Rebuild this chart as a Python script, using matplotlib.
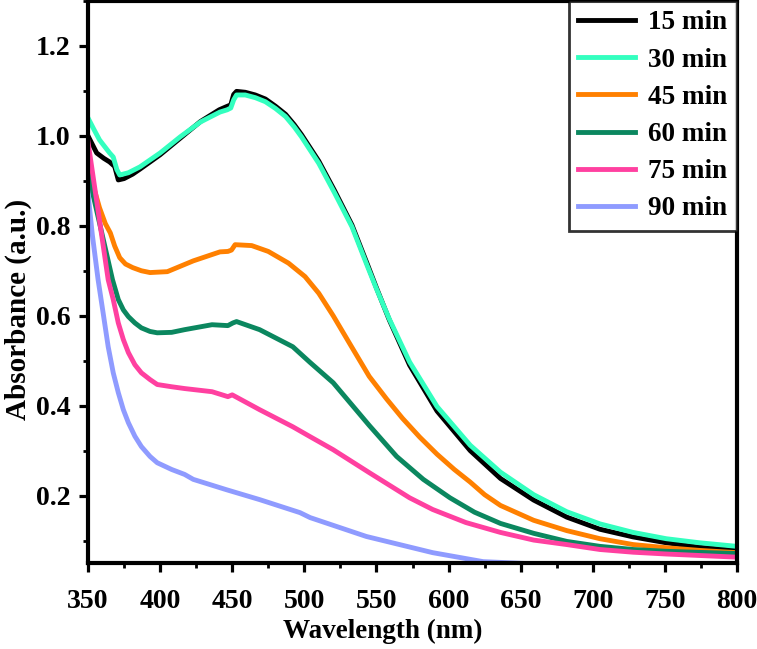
import numpy as np
import matplotlib
matplotlib.use("Agg")
import matplotlib.pyplot as plt
from matplotlib.ticker import MultipleLocator

# 数据
wl_15 = [350, 356, 361, 365, 368.5, 371, 375, 381, 386, 400, 414, 428, 441, 446, 449, 451, 453, 459, 466, 473, 480,
         487, 493, 498, 510, 521, 533, 544, 550, 559, 573, 592, 615, 636, 659, 682, 705, 728, 751, 774, 800]
abs_15 = [1.000, 0.962, 0.950, 0.942, 0.932, 0.902, 0.905, 0.915, 0.926, 0.958, 0.995, 1.032, 1.058, 1.065, 1.069,
          1.092, 1.099, 1.097, 1.091, 1.082, 1.066, 1.048, 1.025, 1.003, 0.944, 0.878, 0.802, 0.712, 0.662, 0.590,
          0.490, 0.388, 0.300, 0.238, 0.190, 0.152, 0.125, 0.108, 0.095, 0.085, 0.078]

wl_30 = [350, 354, 358, 365, 367.5, 370, 372, 378, 386, 400, 414, 428, 441.5, 446.5, 449, 451, 453, 459, 466, 473,
         480, 487, 493, 498, 510, 521, 533, 544, 550, 559, 573, 592, 615, 636, 659, 682, 705, 728, 751, 774, 800]
abs_30 = [1.040, 1.015, 0.991, 0.962, 0.953, 0.925, 0.913, 0.918, 0.931, 0.962, 0.998, 1.031, 1.053, 1.058, 1.062,
          1.080, 1.091, 1.091, 1.085, 1.076, 1.061, 1.043, 1.020, 0.998, 0.939, 0.873, 0.798, 0.708, 0.660, 0.592,
          0.497, 0.398, 0.312, 0.252, 0.202, 0.164, 0.137, 0.118, 0.104, 0.095, 0.087]

wl_45 = [350, 354, 358, 362, 365.5, 368.5, 372, 376, 381, 387, 393, 405, 423, 441.5, 447, 449.5, 452, 463.5, 475,
         489, 500.5, 510, 520, 532, 545, 557, 568, 580, 592, 604, 615, 625, 636, 659, 682, 705, 728, 751, 774, 800]
abs_45 = [0.926, 0.885, 0.840, 0.805, 0.784, 0.755, 0.729, 0.715, 0.707, 0.700, 0.696, 0.698, 0.722, 0.742, 0.743,
          0.746, 0.758, 0.756, 0.743, 0.717, 0.687, 0.650, 0.600, 0.535, 0.465, 0.415, 0.372, 0.330, 0.292, 0.258,
          0.230, 0.202, 0.178, 0.145, 0.122, 0.104, 0.091, 0.084, 0.078, 0.073]

wl_60 = [350, 367, 371, 374.5, 378, 382.5, 387, 393, 398, 408, 417, 436, 447, 450.5, 453, 469, 492, 504, 520, 545,
         564, 582.5, 601, 618, 636, 659, 682, 705, 728, 751, 800]
abs_60 = [0.918, 0.680, 0.636, 0.613, 0.598, 0.584, 0.573, 0.565, 0.562, 0.563, 0.569, 0.580, 0.578, 0.584, 0.587,
          0.569, 0.531, 0.496, 0.451, 0.356, 0.287, 0.236, 0.195, 0.163, 0.138, 0.116, 0.098, 0.087, 0.080, 0.076,
          0.071]

wl_75 = [350, 364, 367.5, 371, 374.5, 378, 382.5, 387, 393, 398, 408, 417, 436, 447, 450, 469, 492, 504, 520, 545.5,
         573, 589, 612, 636, 659, 682, 705, 728, 751, 800]
abs_75 = [0.987, 0.680, 0.636, 0.584, 0.547, 0.518, 0.491, 0.473, 0.458, 0.447, 0.442, 0.438, 0.431, 0.420, 0.424,
          0.391, 0.353, 0.331, 0.302, 0.250, 0.195, 0.169, 0.140, 0.118, 0.101, 0.091, 0.080, 0.074, 0.070, 0.063]

wl_90 = [350, 353, 357, 360.5, 364, 367.5, 371, 374.5, 378, 382.5, 387, 393, 398, 408, 417, 423, 446, 469, 497, 504,
         543, 589, 624, 660, 700, 750, 800]
abs_90 = [0.873, 0.780, 0.680, 0.606, 0.531, 0.473, 0.429, 0.391, 0.362, 0.332, 0.309, 0.287, 0.273, 0.258, 0.247,
          0.236, 0.213, 0.191, 0.162, 0.151, 0.109, 0.073, 0.053, 0.048, 0.040, 0.035, 0.030]

labels = ['15 min', '30 min', '45 min', '60 min', '75 min', '90 min']
colors = ['#000000', '#33FFBF', '#FF8000', '#0B875F', '#FF40A0', '#8F9BFF']


def main():
    plt.rcParams['font.family'] = ['Liberation Serif', 'DejaVu Serif']
    plt.rcParams['font.weight'] = 'bold'

    fig = plt.figure(figsize=(7.57, 6.49), dpi=100)
    ax = fig.add_axes([88 / 757, 86 / 649, 649 / 757, 562 / 649])

    series = [(wl_15, abs_15), (wl_30, abs_30), (wl_45, abs_45),
              (wl_60, abs_60), (wl_75, abs_75), (wl_90, abs_90)]
    for (x, y), lab, c in zip(series, labels, colors):
        ax.plot(x, y, color=c, lw=3.5, label=lab, solid_joinstyle='round')

    ax.set_xlim(350, 800)
    ax.set_ylim(0.05, 1.3)
    ax.xaxis.set_major_locator(MultipleLocator(50))
    ax.xaxis.set_minor_locator(MultipleLocator(25))
    ax.set_yticks([0.2, 0.4, 0.6, 0.8, 1.0, 1.2])
    ax.yaxis.set_minor_locator(MultipleLocator(0.1))

    for sp in ax.spines.values():
        sp.set_linewidth(3)
    ax.tick_params(which='major', direction='out', length=6.5, width=2.3, labelsize=20)
    ax.tick_params(which='minor', direction='out', length=3.5, width=2)
    ax.tick_params(axis='x', which='major', pad=12.5)
    ax.tick_params(axis='y', which='major', pad=6)

    # 坐标轴标题
    ax.set_xlabel('Wavelength (nm)', fontsize=19.5, fontweight='bold')
    ax.xaxis.set_label_coords(0.4545, -0.099)
    ax.xaxis.label.set_va('top')
    ax.set_ylabel('Absorbance (a.u.)', fontsize=21, fontweight='bold')
    ax.yaxis.set_label_coords(-0.0857, 0.451)

    leg = ax.legend(loc='upper right', bbox_to_anchor=(1, 1), borderaxespad=0,
                    fontsize=19.5, frameon=True, fancybox=False, edgecolor='black',
                    handlelength=2.1, handletextpad=0.5, labelspacing=0.45, borderpad=0.35)
    leg.get_frame().set_linewidth(2)
    for line in leg.get_lines():
        line.set_linewidth(3.5)

    fig.savefig('out.png', dpi=100)


if __name__ == "__main__":
    main()
